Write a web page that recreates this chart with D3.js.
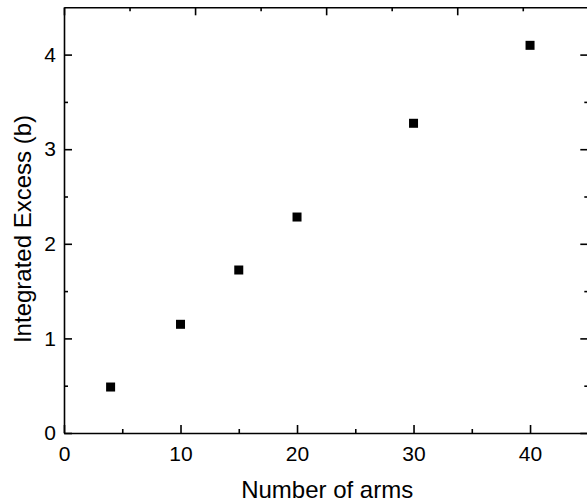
<!DOCTYPE html>
<html>
<head>
<meta charset="utf-8">
<script src="https://cdn.jsdelivr.net/npm/d3@7"></script>
<style>
  html, body { margin: 0; padding: 0; background: #fff; }
  svg { display: block; }
  text { font-family: "Liberation Sans", Arial, sans-serif; fill: #000; }
</style>
</head>
<body>
<svg id="chart" width="587" height="503"></svg>
<script>
// Integrated excess versus number of arms
const arms = [4, 10, 15, 20, 30, 40];
const excess = [0.486, 1.149, 1.723, 2.283, 3.274, 4.098];

const xMajorTicks = [0, 10, 20, 30, 40];
const xMinorTicks = [5, 15, 25, 35];
const yMajorTicks = [0, 1, 2, 3, 4];
const yMinorTicks = [0.5, 1.5, 2.5, 3.5];
const topMajorTicks = [0, 1, 2, 3, 4];
const topMinorTicks = [0.5, 1.5, 2.5, 3.5];

const xTitle = "Number of arms";
const yTitle = "Integrated Excess (b)";

const svg = d3.select("#chart");
const plotLeft = 64, plotRight = 588.3, plotTop = 7.3, plotBottom = 433;

const x = d3.scaleLinear().domain([0, 45]).range([plotLeft, plotRight]);
const y = d3.scaleLinear().domain([0, 4.5]).range([plotBottom, plotTop]);
const xTop = d3.scaleLinear().domain([0, 4]).range([plotLeft, plotRight]);

const major = 8, minor = 4, sw = 1.6;
const tickFont = 21, titleFont = 24;

function styleAxis(g) {
  g.select(".domain").attr("stroke", "#000").attr("stroke-width", sw);
  g.selectAll(".tick line").attr("stroke", "#000").attr("stroke-width", sw);
}
function styleLabels(g) {
  g.selectAll(".tick text")
    .attr("font-size", tickFont)
    .attr("font-family", "Liberation Sans, Arial, sans-serif");
}

// bottom axis with labels
svg.append("g")
  .attr("transform", `translate(0,${plotBottom})`)
  .call(d3.axisBottom(x).tickValues(xMajorTicks).tickSizeInner(-major).tickSizeOuter(0).tickPadding(13).tickFormat(d3.format("d")))
  .call(styleAxis)
  .call(styleLabels);
svg.append("g")
  .attr("transform", `translate(0,${plotBottom})`)
  .call(d3.axisBottom(x).tickValues(xMinorTicks).tickSizeInner(-minor).tickSizeOuter(0).tickFormat(""))
  .call(styleAxis)
  .call(g => g.select(".domain").remove());

// left axis with labels
svg.append("g")
  .attr("transform", `translate(${plotLeft},0)`)
  .call(d3.axisLeft(y).tickValues(yMajorTicks).tickSizeInner(-major).tickSizeOuter(0).tickPadding(8).tickFormat(d3.format("d")))
  .call(styleAxis)
  .call(styleLabels);
svg.append("g")
  .attr("transform", `translate(${plotLeft},0)`)
  .call(d3.axisLeft(y).tickValues(yMinorTicks).tickSizeInner(-minor).tickSizeOuter(0).tickFormat(""))
  .call(styleAxis)
  .call(g => g.select(".domain").remove());

// right axis, ticks only
svg.append("g")
  .attr("transform", `translate(${plotRight},0)`)
  .call(d3.axisRight(y).tickValues(yMajorTicks).tickSizeInner(-major).tickSizeOuter(0).tickFormat(""))
  .call(styleAxis);
svg.append("g")
  .attr("transform", `translate(${plotRight},0)`)
  .call(d3.axisRight(y).tickValues(yMinorTicks).tickSizeInner(-minor).tickSizeOuter(0).tickFormat(""))
  .call(styleAxis)
  .call(g => g.select(".domain").remove());

// top axis, ticks only
svg.append("g")
  .attr("transform", `translate(0,${plotTop})`)
  .call(d3.axisTop(xTop).tickValues(topMajorTicks).tickSizeInner(-major).tickSizeOuter(0).tickFormat(""))
  .call(styleAxis);
svg.append("g")
  .attr("transform", `translate(0,${plotTop})`)
  .call(d3.axisTop(xTop).tickValues(topMinorTicks).tickSizeInner(-minor).tickSizeOuter(0).tickFormat(""))
  .call(styleAxis)
  .call(g => g.select(".domain").remove());

// data points
const s = 9;
svg.append("g").selectAll("rect")
  .data(arms.map((a, i) => ({ a, v: excess[i] })))
  .join("rect")
  .attr("x", d => x(d.a) - s / 2)
  .attr("y", d => y(d.v) - s / 2)
  .attr("width", s)
  .attr("height", s)
  .attr("fill", "#000");

// axis titles
svg.append("text")
  .attr("x", (plotLeft + plotRight) / 2 + 1)
  .attr("y", 498)
  .attr("text-anchor", "middle")
  .attr("font-size", titleFont)
  .text(xTitle);

svg.append("text")
  .attr("transform", `translate(31,229) rotate(-90)`)
  .attr("text-anchor", "middle")
  .attr("font-size", titleFont)
  .text(yTitle);
</script>
</body>
</html>
